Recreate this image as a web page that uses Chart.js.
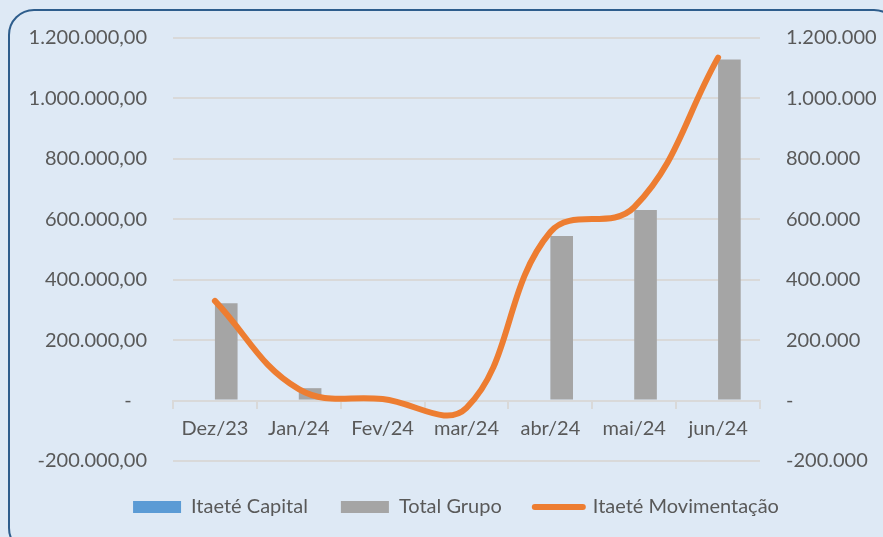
<!DOCTYPE html>
<html>
<head>
<meta charset="utf-8">
<script src="https://cdn.jsdelivr.net/npm/chart.js@4.4.1/dist/chart.umd.min.js"></script>
<style>
    html, body { margin: 0; padding: 0; background: #DEE9F5; overflow: hidden; }
    #wrap { position: relative; width: 883px; height: 537px; overflow: hidden; }
    #frame { position: absolute; left: 8px; top: 9px; width: 892px; height: 545px; border: 2px solid #2E5D8C; border-radius: 26px; box-sizing: border-box; }
    canvas { position: absolute; left: 0; top: 0; }
</style>
</head>
<body>
<div id="wrap">
    <div id="frame"></div>
    <canvas id="chart" width="883" height="537"></canvas>
</div>
<script>
// months on the x axis
const labels = ['Dez/23', 'Jan/24', 'Fev/24', 'mar/24', 'abr/24', 'mai/24', 'jun/24'];

// series values
const itaeteCapital = [0, 0, 0, 0, 0, 0, 0];
const totalGrupo = [322000, 41000, 0, 0, 545000, 631000, 1129000];
const itaeteMovimentacao = [330000, 38000, 5000, -24000, 558000, 640000, 1135000];

// value axes (left and right share the same range)
const yMin = -200000;
const yMax = 1200000;
const yStep = 200000;

const textColor = '#595959';
const gridColor = '#D9D9D9';
const fontFamily = 'Lato, "Open Sans", sans-serif';

function thousands(v) {
    const s = Math.abs(Math.round(v)).toString().replace(/\B(?=(\d{3})+(?!\d))/g, '.');
    return (v < 0 ? '-' : '') + s;
}

// push the legend row down a bit, like the original
const legendShift = {
    id: 'legendShift',
    afterLayout(chart) {
        const lg = chart.legend;
        if (!lg) return;
        lg.top += 3;
        lg.bottom += 3;
    }
};

const ctx = document.getElementById('chart').getContext('2d');
new Chart(ctx, {
    type: 'bar',
    data: {
        labels,
        datasets: [
            { label: 'Itaeté Capital', data: itaeteCapital, backgroundColor: '#5B9BD5', yAxisID: 'y', order: 1 },
            { label: 'Total Grupo', data: totalGrupo, backgroundColor: '#A5A5A5', yAxisID: 'y', order: 1 },
            {
                type: 'line', label: 'Itaeté Movimentação', data: itaeteMovimentacao,
                borderColor: '#ED7D31', backgroundColor: '#ED7D31', borderWidth: 6,
                borderCapStyle: 'round', pointRadius: 0, tension: 0.4, yAxisID: 'y1', order: 0
            }
        ]
    },
    options: {
        responsive: false,
        animation: false,
        devicePixelRatio: 1,
        categoryPercentage: 0.54,
        barPercentage: 1,
        layout: { padding: { left: 29, right: 0, top: 37, bottom: 13 } },
        plugins: {
            tooltip: { enabled: false },
            legend: {
                position: 'bottom',
                labels: {
                    usePointStyle: true,
                    pointStyleWidth: 48,
                    boxHeight: 12,
                    padding: 33,
                    color: textColor,
                    font: { family: fontFamily, size: 20 },
                    generateLabels(chart) {
                        return chart.data.datasets.map((ds, i) => {
                            const isLine = ds.type === 'line';
                            const c = isLine ? ds.borderColor : ds.backgroundColor;
                            return {
                                text: ds.label, datasetIndex: i, hidden: false,
                                fillStyle: c, strokeStyle: c, fontColor: textColor,
                                lineWidth: isLine ? 6 : 0, lineCap: 'round',
                                pointStyle: isLine ? 'line' : 'rect'
                            };
                        });
                    }
                }
            }
        },
        scales: {
            x: {
                position: { y: 0 },
                offset: true,
                grid: { display: true, drawOnChartArea: false, drawTicks: true, tickLength: 7, color: gridColor, lineWidth: 2, offset: true },
                border: { display: true, color: gridColor, width: 2 },
                ticks: { color: textColor, font: { family: fontFamily, size: 20 }, padding: 9, maxRotation: 0 }
            },
            y: {
                position: 'left',
                min: yMin, max: yMax,
                afterFit(scale) { scale.width = 144; },
                grid: { color: gridColor, lineWidth: 2, drawTicks: false },
                border: { display: false },
                ticks: {
                    stepSize: yStep, padding: 26, color: textColor,
                    font: { family: fontFamily, size: 20 },
                    callback: v => v === 0 ? '-   ' : thousands(v) + ',00'
                }
            },
            y1: {
                position: 'right',
                min: yMin, max: yMax,
                afterFit(scale) { scale.width = 123; },
                grid: { display: false, drawTicks: false },
                border: { display: false },
                ticks: {
                    stepSize: yStep, padding: 26, color: textColor,
                    font: { family: fontFamily, size: 20 },
                    callback: v => v === 0 ? '-' : thousands(v)
                }
            }
        }
    },
    plugins: [legendShift]
});
</script>
</body>
</html>
